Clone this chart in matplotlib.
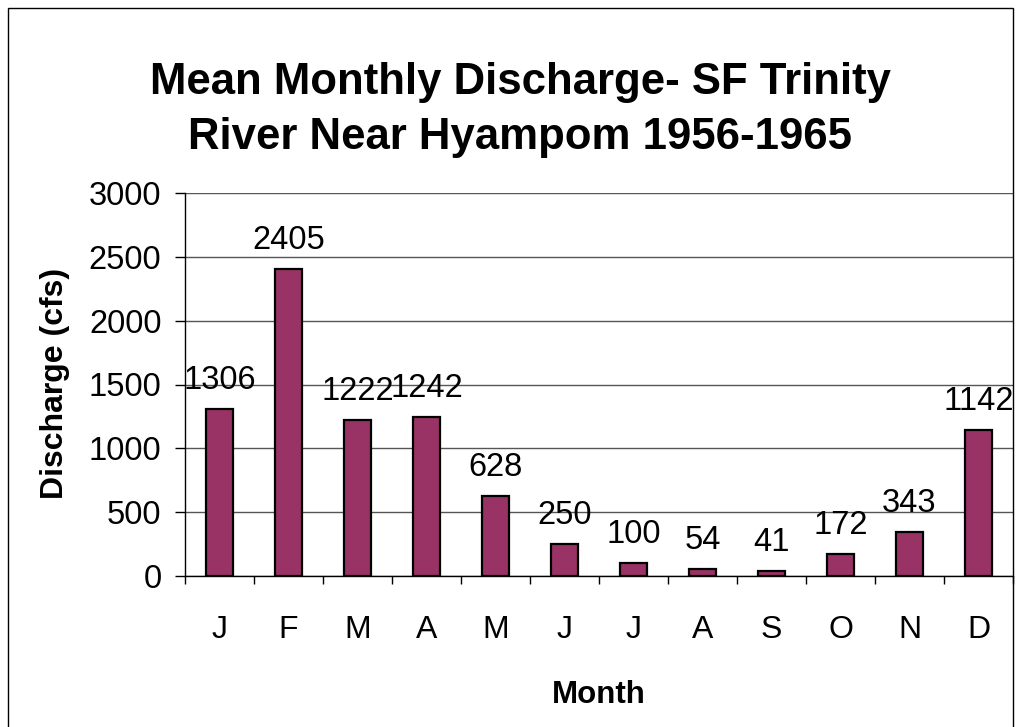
import numpy as np
import matplotlib
matplotlib.use('Agg')
from matplotlib import pyplot as plt
from matplotlib.patches import Rectangle

months = ['J', 'F', 'M', 'A', 'M', 'J', 'J', 'A', 'S', 'O', 'N', 'D']
discharge = [1306, 2405, 1222, 1242, 628, 250, 100, 54, 41, 172, 343, 1142]
yticks = [0, 500, 1000, 1500, 2000, 2500, 3000]
title_lines = ['Mean Monthly Discharge- SF Trinity', 'River Near Hyampom 1956-1965']

plt.rcParams['font.family'] = ['Liberation Sans', 'DejaVu Sans']

W, H = 1016, 727
fig = plt.figure(figsize=(W / 100, H / 100), dpi=100)
ax = fig.add_axes([185 / W, 1 - 576 / H, (1013 - 185) / W, (576 - 193) / H])

x = np.arange(len(months))
ax.bar(x, discharge, width=0.4, color='#993366', edgecolor='black', linewidth=1.6, zorder=3)

# value labels above each bar
for xi, v in zip(x, discharge):
    ax.annotate(str(v), (xi, v), xytext=(0, 14.5), textcoords='offset points',
                ha='center', va='baseline', fontsize=23.5, annotation_clip=False)

ax.set_xlim(-0.5, len(months) - 0.5)
ax.set_ylim(0, 3000)
ax.set_yticks(yticks)
ax.set_yticklabels([str(t) for t in yticks])
ax.set_xticks(x)
ax.set_xticklabels(months)
ax.set_xticks(np.arange(len(months) + 1) - 0.5, minor=True)

ax.tick_params(axis='x', which='major', length=0, pad=28, labelsize=23)
ax.tick_params(axis='x', which='minor', length=6, width=1.0, direction='out')
ax.tick_params(axis='y', length=7, width=1.0, pad=10, labelsize=23.5)

ax.yaxis.grid(True, color='#555555', linewidth=1.0, zorder=0)
ax.set_axisbelow(True)
for s in ['top', 'right']:
    ax.spines[s].set_visible(False)
ax.spines['left'].set_linewidth(1.0)
ax.spines['bottom'].set_linewidth(1.0)

# titles and axis labels
fig.text(520 / W, 1 - 94 / H, title_lines[0], ha='center', va='baseline',
         fontsize=31.5, fontweight='bold')
fig.text(520 / W, 1 - 149 / H, title_lines[1], ha='center', va='baseline',
         fontsize=31.5, fontweight='bold')
fig.text(599 / W, 1 - 703 / H, 'Month', ha='center', va='baseline',
         fontsize=22.5, fontweight='bold')
fig.text(55 / W, 1 - 383 / H, 'Discharge (cfs)', ha='center', va='center',
         rotation=90, fontsize=23, fontweight='bold')

# outer chart border
fig.patches.append(Rectangle((8 / W, -0.05), (1013 - 8) / W, (H - 8) / H + 0.05,
                             transform=fig.transFigure, fill=False,
                             edgecolor='black', linewidth=1.0))

plt.savefig('out.png', dpi=100)
plt.close()
